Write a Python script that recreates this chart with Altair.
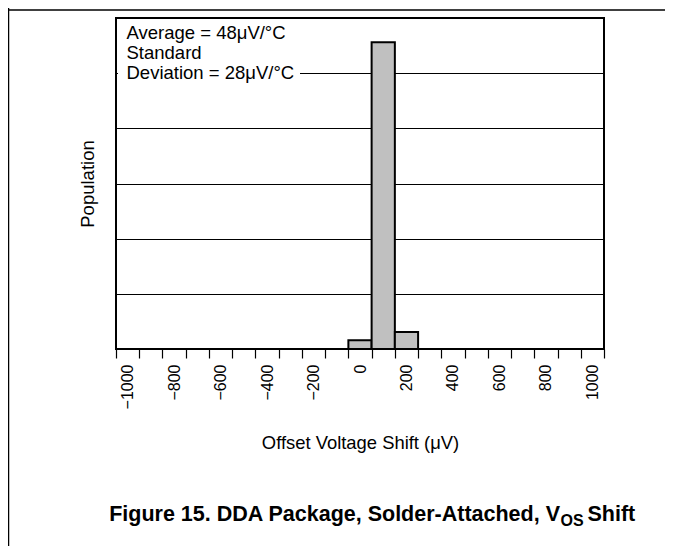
import altair as alt
import pandas as pd

# ---- data ----
bin_start = [-50, 50, 150]
bin_end = [50, 150, 250]
population = [1.6, 55.6, 3.1]

tick_edges = [-1050, -950, -850, -750, -650, -550, -450, -350, -250, -150, -50,
              50, 150, 250, 350, 450, 550, 650, 750, 850, 950, 1050]
label_values = [-1000, -800, -600, -400, -200, 0, 200, 400, 600, 800, 1000]
grid_values = [0, 10, 20, 30, 40, 50, 60]

annotation = ["Average = 48\u03bcV/\u00b0C", "Standard", "Deviation = 28\u03bcV/\u00b0C"]
caption_main = "Figure 15. DDA Package, Solder-Attached, V"
caption_sub = "OS"
caption_tail = "Shift"

FONT = "Liberation Sans"
W, H = 488, 331
half_bin_px = 50 * W / 2100.0

df = pd.DataFrame({"start": bin_start, "end": bin_end, "pop": population})
one = pd.DataFrame({"k": [0]})

label_expr = (
    f"indexof({label_values}, datum.value + 50) >= 0 ? "
    "replace(format(datum.value + 50, 'd'), '-', '\u2212') : ''"
)

bars = alt.Chart(df).mark_rect(fill="#c0c0c0", stroke="black", strokeWidth=2).encode(
    x=alt.X("start:Q",
            scale=alt.Scale(domain=[-1050, 1050], nice=False, zero=False),
            axis=alt.Axis(values=tick_edges, labelExpr=label_expr, labelAngle=270,
                          labelAlign="right", labelBaseline="middle",
                          labelOffset=half_bin_px, labelPadding=6,
                          labelFlush=False, labelOverlap=False, labelBound=False,
                          labelFont=FONT, labelFontSize=16, labelColor="black",
                          tickColor="black", tickSize=9, tickWidth=1.2,
                          domain=False, grid=False,
                          title="Offset Voltage Shift (\u03bcV)", titleFont=FONT,
                          titleFontSize=18.4, titleFontWeight="normal",
                          titleColor="black", titlePadding=25)),
    x2="end:Q",
    y=alt.Y("pop:Q",
            scale=alt.Scale(domain=[0, 60], nice=False),
            axis=alt.Axis(values=grid_values, labels=False, ticks=False, domain=False,
                          grid=True, gridColor="black", gridWidth=1, gridOpacity=1,
                          title="Population", titleFont=FONT, titleFontSize=18.5,
                          titleFontWeight="normal", titleColor="black",
                          titlePadding=19)),
    y2=alt.datum(0),
)

white_box = alt.Chart(one).mark_rect(fill="white").encode(
    x=alt.value(2), x2=alt.value(184), y=alt.value(44), y2=alt.value(65)
)

note = alt.Chart(one).mark_text(
    text=annotation, font=FONT, fontSize=18.5, lineHeight=20,
    align="left", baseline="alphabetic", color="black"
).encode(x=alt.value(10.5), y=alt.value(21))

frame_v = alt.Chart(one).mark_rule(color="black", strokeWidth=1.5).encode(
    x=alt.value(-107.5), y=alt.value(-10), y2=alt.value(530)
)
frame_h = alt.Chart(one).mark_rule(color="black", strokeWidth=1.5).encode(
    x=alt.value(-108), x2=alt.value(550), y=alt.value(-8)
)

cap1 = alt.Chart(one).mark_text(
    text=caption_main, font=FONT, fontSize=21.5, fontWeight="bold",
    align="right", baseline="alphabetic", color="black"
).encode(x=alt.value(444), y=alt.value(502.5))
cap2 = alt.Chart(one).mark_text(
    text=caption_sub, font=FONT, fontSize=16, fontWeight="bold",
    align="left", baseline="alphabetic", color="black"
).encode(x=alt.value(444.5), y=alt.value(507.5))
cap3 = alt.Chart(one).mark_text(
    text=caption_tail, font=FONT, fontSize=21.5, fontWeight="bold",
    align="left", baseline="alphabetic", color="black"
).encode(x=alt.value(471.5), y=alt.value(502.5))

chart = alt.layer(bars, white_box, note, frame_v, frame_h, cap1, cap2, cap3).properties(
    width=W, height=H,
    autosize=alt.AutoSizeParams(type="none"),
    padding={"left": 108, "top": 10, "right": 61, "bottom": 197},
    background="white",
).configure_view(stroke="black", strokeWidth=2)

chart.save("out.html", embed_options={"renderer": "svg", "actions": False})
